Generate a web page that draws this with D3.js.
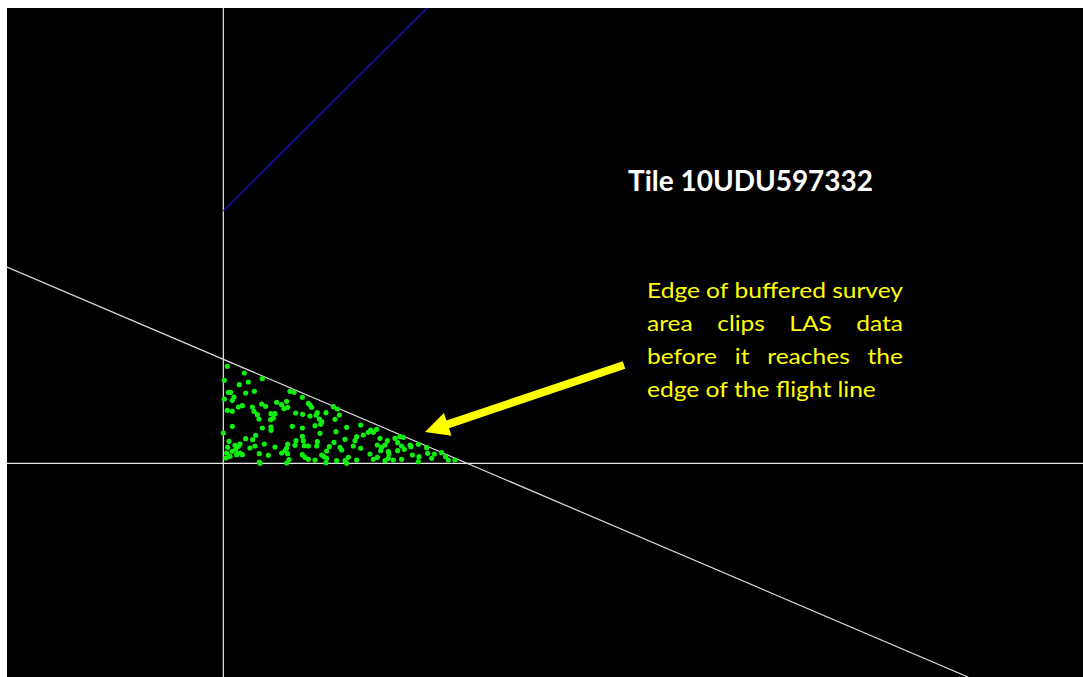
<!DOCTYPE html>
<html>
<head>
<meta charset="utf-8">
<script src="https://cdn.jsdelivr.net/npm/d3@7"></script>
<style>
  html, body { margin: 0; padding: 0; background: #ffffff; }
  svg { display: block; }
</style>
</head>
<body>
<svg id="chart" width="1083" height="677"></svg>
<script>
// ---- DATA (units: 1/3 pixel-ish local tile units; origin = tile SW corner) ----
const titleText = "Tile 10UDU597332";
const noteLines = [
  "Edge of buffered survey",
  "area clips LAS data",
  "before it reaches the",
  "edge of the flight line"
];
// tile edges (x = 0 vertical, y = 0 horizontal)
const tileEdgeX = [0];
const tileEdgeY = [0];
// buffered survey area edge (white diagonal)
const bufferEdgeX = [-649, 2234];
const bufferEdgeY = [589, -641];
// flight line edge (blue)
const flightEdgeX = [0, 611];
const flightEdgeY = [757, 1366];
// arrow annotation (tail, tip)
const arrowX = [1202, 605];
const arrowY = [295, 94];
// LAS points
const pointX = [12,63,75,48,3,117,15,22,32,27,3,67,93,45,57,12,27,87,92,102,107,115,127,143,150,142,155,160,175,182,193,190,200,212,217,207,237,237,240,243,237,215,218,193,190,185,193,197,190,175,155,123,108,80,67,97,88,117,143,143,27,0,17,13,8,20,27,37,45,50,57,40,95,108,135,10,35,50,237,110,
  260,265,255,238,260,278,282,308,288,295,292,275,330,342,335,348,370,338,412,400,395,420,435,442,450,460,470,462,475,472,485,492,495,495,282,280,290,318,310,332,350,355,365,390,412,440,450,462,485,245,255,275,295,302,310,308,340,365,375,370,400,255,
  515,523,530,540,535,543,560,563,585,497,523,510,535,567,587,585,610,613,633,625,655,667,675,695];
const pointY = [291,271,244,236,249,254,213,213,199,189,193,211,216,169,173,159,156,169,156,146,133,178,171,149,136,131,149,183,176,164,168,186,216,213,151,111,106,81,68,53,26,54,68,58,46,38,29,11,1,31,49,58,29,46,74,84,71,106,109,99,111,91,66,48,16,21,36,41,51,58,26,26,52,4,24,31,54,31,198,0,
  175,168,180,147,142,145,152,152,133,125,117,113,170,163,132,145,108,95,115,80,68,85,93,100,93,102,75,55,48,38,55,68,35,15,65,52,90,50,37,63,48,40,72,52,45,28,12,18,8,18,12,10,25,20,15,2,8,8,18,0,10,52,
  75,62,80,78,52,42,55,50,57,28,38,10,12,25,20,5,47,30,28,15,32,20,10,10];

// ---- LAYOUT ----
const W = 1083, H = 677;
const plot = { left: 7, top: 8, right: 1083, bottom: 677 };

const svg = d3.select("#chart");
const x = d3.scaleLinear().domain([-649, 2579]).range([plot.left, plot.right]);
const y = d3.scaleLinear().domain([-641, 1366]).range([plot.bottom, plot.top]);

svg.append("defs").append("clipPath").attr("id", "clip")
  .append("rect").attr("x", plot.left).attr("y", plot.top)
  .attr("width", plot.right - plot.left).attr("height", plot.bottom - plot.top);

svg.append("rect").attr("x", plot.left).attr("y", plot.top)
  .attr("width", plot.right - plot.left).attr("height", plot.bottom - plot.top)
  .attr("fill", "#000000");

const g = svg.append("g").attr("clip-path", "url(#clip)");

// tile edges
g.selectAll("line.tx").data(tileEdgeX).join("line")
  .attr("x1", d => x(d)).attr("x2", d => x(d))
  .attr("y1", plot.top).attr("y2", plot.bottom)
  .attr("stroke", "#e8e8e8").attr("stroke-width", 1.2);
g.selectAll("line.ty").data(tileEdgeY).join("line")
  .attr("y1", d => y(d)).attr("y2", d => y(d))
  .attr("x1", plot.left).attr("x2", plot.right)
  .attr("stroke", "#e8e8e8").attr("stroke-width", 1.2);

const lineGen = d3.line().x(d => x(d[0])).y(d => y(d[1]));
g.append("path").datum(d3.zip(bufferEdgeX, bufferEdgeY))
  .attr("d", lineGen).attr("fill", "none")
  .attr("stroke", "#dcdcdc").attr("stroke-width", 1.2);
g.append("path").datum(d3.zip(flightEdgeX, flightEdgeY))
  .attr("d", lineGen).attr("fill", "none")
  .attr("stroke", "#1212b8").attr("stroke-width", 1.5);

// points
g.selectAll("circle.pt").data(d3.zip(pointX, pointY)).join("circle")
  .attr("cx", d => x(d[0])).attr("cy", d => y(d[1]))
  .attr("r", 2.6).attr("fill", "#10ee10");

// arrow
(function () {
  const x0 = x(arrowX[0]), y0 = y(arrowY[0]);
  const x1 = x(arrowX[1]), y1 = y(arrowY[1]);
  const dx = x1 - x0, dy = y1 - y0, L = Math.hypot(dx, dy);
  const ux = dx / L, uy = dy / L, nx = -uy, ny = ux;
  const headLen = 24, headHalf = 12, shaftHalf = 4;
  const bx = x1 - ux * headLen, by = y1 - uy * headLen;
  const pts = [
    [x0 + nx * shaftHalf, y0 + ny * shaftHalf],
    [bx + nx * shaftHalf, by + ny * shaftHalf],
    [bx + nx * headHalf, by + ny * headHalf],
    [x1, y1],
    [bx - nx * headHalf, by - ny * headHalf],
    [bx - nx * shaftHalf, by - ny * shaftHalf],
    [x0 - nx * shaftHalf, y0 - ny * shaftHalf]
  ];
  g.append("path").attr("d", "M" + pts.map(p => p.join(",")).join("L") + "Z")
    .attr("fill", "#ffff00");
})();

// title
svg.append("text").attr("x", 628).attr("y", 191)
  .attr("font-family", "Lato, 'Open Sans', sans-serif")
  .attr("font-weight", 700).attr("font-size", 28)
  .attr("fill", "#ffffff")
  .attr("textLength", 245).attr("lengthAdjust", "spacingAndGlyphs")
  .text(titleText);

// justified note
(function () {
  const left = 647, width = 256, base0 = 298, lh = 32.9;
  const font = "Lato, 'Open Sans', sans-serif", fs = 22;
  const ng = svg.append("g");
  // measure
  const meas = ng.append("text").attr("font-family", font).attr("font-size", fs);
  function w(s) { meas.text(s); return meas.node().getComputedTextLength(); }
  const spaceW = w("a a") - w("aa");
  const k = width / w(noteLines[0]);
  meas.remove();
  const inner = ng.append("g").attr("transform", `translate(${left},0) scale(${k},1)`);
  const fullW = width / k;
  noteLines.forEach((line, i) => {
    const words = line.split(" ");
    const ws = words.map(w_ => {
      const t = inner.append("text").attr("font-family", font).attr("font-size", fs).text(w_);
      const len = t.node().getComputedTextLength();
      t.remove();
      return len;
    });
    const total = d3.sum(ws);
    const last = i === noteLines.length - 1;
    const gap = last ? spaceW : (fullW - total) / (words.length - 1);
    let cx = 0;
    words.forEach((w_, j) => {
      inner.append("text").attr("x", cx).attr("y", base0 + i * lh)
        .attr("font-family", font).attr("font-size", fs)
        .attr("fill", "#ffff00").text(w_);
      cx += ws[j] + gap;
    });
  });
})();
</script>
</body>
</html>
